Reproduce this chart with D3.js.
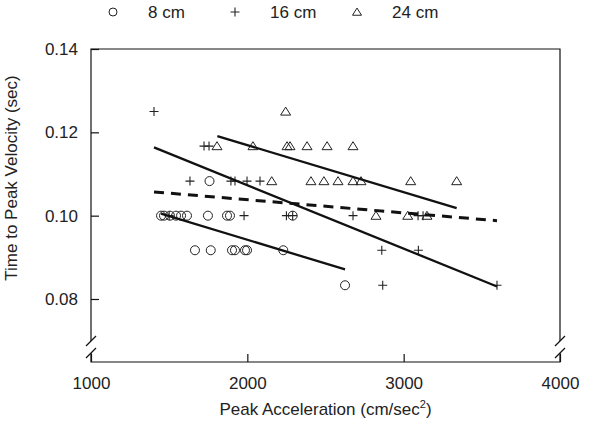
<!DOCTYPE html>
<html>
<head>
<meta charset="utf-8">
<script src="https://cdn.jsdelivr.net/npm/d3@7"></script>
<style>
  body { margin: 0; background: #fff; }
  svg { display: block; font-family: Arial, "Liberation Sans", sans-serif; }
  .tick text { font-size: 17px; fill: #222; }
</style>
</head>
<body>
<svg width="600" height="429"></svg>
<script>
// ---- data ----
const xTicks = [1000, 2000, 3000, 4000];
const yTicks = [0.08, 0.10, 0.12, 0.14];
const seriesNames = ["8 cm", "16 cm", "24 cm"];

// 8 cm (circles)
const acc8 = [1448, 1467, 1505, 1544, 1576, 1614, 1748, 1870, 1889, 2290,
              1758,
              1665, 1766, 1902, 1921, 1985, 1998, 2230,
              2625];
const tpv8 = [0.1, 0.1, 0.1, 0.1, 0.1, 0.1, 0.1, 0.1, 0.1, 0.1,
              0.1083,
              0.0917, 0.0917, 0.0917, 0.0917, 0.0917, 0.0917, 0.0917,
              0.0833];

// 16 cm (plus)
const acc16 = [1403,
               1723, 1755,
               1633, 1895, 1921, 1998, 2081,
               1500, 1979, 2250, 2290, 2676, 3092, 3124,
               2860, 3094,
               2866, 3597];
const tpv16 = [0.125,
               0.1167, 0.1167,
               0.1083, 0.1083, 0.1083, 0.1083, 0.1083,
               0.1, 0.1, 0.1, 0.1, 0.1, 0.1, 0.1,
               0.0917, 0.0917,
               0.0833, 0.0833];

// 24 cm (triangles)
const acc24 = [2245,
               1806, 2036, 2254, 2273, 2382, 2510, 2676,
               2156, 2407, 2490, 2580, 2676, 2727, 3045, 3339,
               2823, 3026, 3149];
const tpv24 = [0.125,
               0.1167, 0.1167, 0.1167, 0.1167, 0.1167, 0.1167, 0.1167,
               0.1083, 0.1083, 0.1083, 0.1083, 0.1083, 0.1083, 0.1083, 0.1083,
               0.1, 0.1, 0.1];

// regression lines: [x0, x1], [y0, y1]
const fit8X = [1448, 2625], fit8Y = [0.1005, 0.0871];
const fit16X = [1403, 3597], fit16Y = [0.1164, 0.0830];
const fit24X = [1808, 3339], fit24Y = [0.1191, 0.1018];
const fitAllX = [1403, 3597], fitAllY = [0.1057, 0.0988];

// ---- layout ----
const svg = d3.select("svg");
const plotLeft = 91, plotRight = 560, plotTop = 49, plotBottom = 362;

const x = d3.scaleLinear().domain([1000, 4000]).range([plotLeft, plotRight]);
const y = d3.scaleLinear().domain([0.08, 0.14]).range([299, plotTop]);

// frame with axis breaks
const breakA = 341, breakB = 353;
const frame = svg.append("g").attr("fill", "none").attr("stroke", "#111").attr("stroke-width", 1.2);
frame.append("path").attr("d", `M${plotLeft},${breakA}V${plotTop}H${plotRight}V${breakA}`);
frame.append("path").attr("d", `M${plotLeft},${breakB}V${plotBottom}H${plotRight}V${breakB}`);
[plotLeft, plotRight].forEach(xx => {
    [breakA, breakB].forEach(yy => {
        frame.append("line")
            .attr("x1", xx - 5).attr("y1", yy + 5)
            .attr("x2", xx + 5).attr("y2", yy - 5);
    });
});

// axes (inward ticks)
const xAxis = svg.append("g")
    .attr("transform", `translate(0,${plotBottom})`)
    .call(d3.axisBottom(x).tickValues(xTicks).tickSize(-8).tickPadding(15).tickFormat(d3.format("d")));
const yAxis = svg.append("g")
    .attr("transform", `translate(${plotLeft},0)`)
    .call(d3.axisLeft(y).tickValues(yTicks).tickSize(-8).tickPadding(13).tickFormat(d3.format(".2f")));
[xAxis, yAxis].forEach(a => {
    a.select(".domain").remove();
    a.selectAll(".tick line").attr("stroke", "#111").attr("stroke-width", 1.2);
    a.selectAll(".tick text").style("font-family", "Arial, 'Liberation Sans', sans-serif");
});

// axis titles
const xTitle = svg.append("text")
    .attr("x", (plotLeft + plotRight) / 2).attr("y", 415)
    .attr("text-anchor", "middle")
    .style("font-size", "17px").attr("fill", "#222");
xTitle.append("tspan").text("Peak Acceleration (cm/sec");
xTitle.append("tspan").text("2").attr("dy", -7).style("font-size", "11px");
xTitle.append("tspan").text(")").attr("dy", 7);

svg.append("text")
    .attr("transform", "translate(17,178) rotate(-90)")
    .attr("text-anchor", "middle")
    .style("font-size", "17px").attr("fill", "#222")
    .text("Time to Peak Velocity (sec)");

// markers
const plot = svg.append("g");

function drawMarker(sel, kind, size) {
    sel.each(function() {
        const s = d3.select(this);
        if (kind === 0) {
            s.append("circle").attr("r", size).attr("fill", "none").attr("stroke", "#222").attr("stroke-width", 1);
        } else if (kind === 1) {
            s.append("path").attr("d", `M${-size},0H${size}M0,${-size}V${size}`)
                .attr("stroke", "#222").attr("stroke-width", 1.1).attr("fill", "none");
        } else {
            const h = size * 1.6;
            s.append("path").attr("d", `M0,${-h * 0.55}L${size},${h * 0.45}L${-size},${h * 0.45}Z`)
                .attr("stroke", "#222").attr("stroke-width", 1).attr("fill", "none");
        }
    });
}

const series = [
    { acc: acc8, tpv: tpv8 },
    { acc: acc16, tpv: tpv16 },
    { acc: acc24, tpv: tpv24 }
];
const markerSize = [4.5, 4.5, 5];

series.forEach((s, k) => {
    const pts = s.acc.map((a, i) => [a, s.tpv[i]]);
    plot.selectAll(`.m${k}`)
        .data(pts)
        .enter().append("g")
        .attr("class", `m${k}`)
        .attr("transform", d => `translate(${x(d[0])},${y(d[1])})`)
        .call(drawMarker, k, markerSize[k]);
});

// regression lines
const line = d3.line().x(d => x(d[0])).y(d => y(d[1]));
[[fit8X, fit8Y], [fit16X, fit16Y], [fit24X, fit24Y]].forEach(([fx, fy]) => {
    plot.append("path")
        .attr("d", line(fx.map((v, i) => [v, fy[i]])))
        .attr("fill", "none").attr("stroke", "#111").attr("stroke-width", 2.3);
});
plot.append("path")
    .attr("d", line(fitAllX.map((v, i) => [v, fitAllY[i]])))
    .attr("fill", "none").attr("stroke", "#111").attr("stroke-width", 3)
    .attr("stroke-dasharray", "10,7");

// legend
const legendX = [113, 235, 357];
const legend = svg.append("g");
seriesNames.forEach((name, k) => {
    const g = legend.append("g").attr("transform", `translate(${legendX[k]},12)`);
    g.append("g").call(drawMarker, k, k === 0 ? 4 : 4.5);
    g.append("text")
        .attr("x", 35).attr("y", 6)
        .style("font-size", "17px").attr("fill", "#222")
        .text(name);
});
</script>
</body>
</html>
